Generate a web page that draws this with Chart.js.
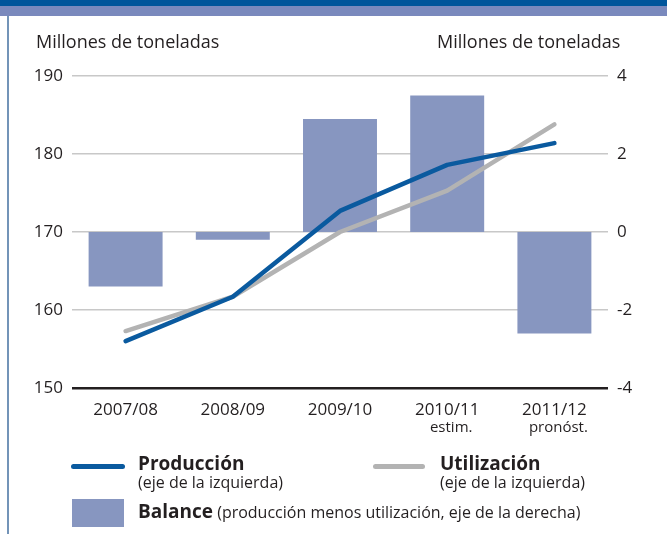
<!DOCTYPE html>
<html lang="es">
<head>
<meta charset="utf-8">
<title>Producción y utilización</title>
<script src="https://cdn.jsdelivr.net/npm/chart.js@4.4.1/dist/chart.umd.min.js"></script>
<style>
  html, body { margin: 0; padding: 0; background: #fff; }
  body { width: 667px; height: 534px; position: relative; overflow: hidden; font-family: "Open Sans", sans-serif; color: #231f20; }
  #banda1 { position: absolute; left: 0; top: 0; width: 667px; height: 6px; background: #00559b; }
  #banda2 { position: absolute; left: 0; top: 6px; width: 667px; height: 10px; background: #7a89bd; }
  #borde { position: absolute; left: 7px; top: 16px; width: 2px; height: 518px; background: #7394b8; }
  #chart { position: absolute; left: 0; top: 0; }
  .titulo { position: absolute; top: 29px; font-size: 18px; line-height: 24px; }
  .leyenda { position: absolute; line-height: 1; white-space: nowrap; }
  .leyenda b { font-size: 19px; }
  .leyenda span { font-size: 16px; }
  .linea { position: absolute; height: 5px; border-radius: 3px; }
</style>
</head>
<body>
<div id="banda1"></div>
<div id="banda2"></div>
<div id="borde"></div>
<canvas id="chart" width="667" height="534"></canvas>
<div class="titulo" style="left:36px">Millones de toneladas</div>
<div class="titulo" style="left:437px">Millones de toneladas</div>

<div class="linea" style="left:71px; top:464px; width:54px; background:#0a5a9f"></div>
<div class="leyenda" style="left:138px; top:454px"><b>Producción</b></div>
<div class="leyenda" style="left:138px; top:474px"><span>(eje de la izquierda)</span></div>
<div class="linea" style="left:373px; top:464px; width:52px; background:#b3b3b3"></div>
<div class="leyenda" style="left:440px; top:454px"><b>Utilización</b></div>
<div class="leyenda" style="left:440px; top:474px"><span>(eje de la izquierda)</span></div>
<div style="position:absolute; left:72px; top:499px; width:52px; height:28px; background:#8796c0"></div>
<div class="leyenda" style="left:138px; top:502px"><b>Balance</b> <span>(producción menos utilización, eje de la derecha)</span></div>

<script>
// Datos
const categorias = ["2007/08", "2008/09", "2009/10", "2010/11", "2011/12"];
const subEtiquetas = ["", "", "", "estim.", "pronóst."];
const produccion = [156.0, 161.7, 172.7, 178.6, 181.4];
const utilizacion = [157.3, 161.7, 170.0, 175.3, 183.8];
const balance = [-1.4, -0.2, 2.9, 3.5, -2.6];
const ticksIzq = [150, 160, 170, 180, 190];
const ticksDer = [-4, -2, 0, 2, 4];

const chartCanvas = document.querySelector("#chart");

// Dibuja "estim." y "pronóst." debajo de las etiquetas del eje x
const subEtiquetasPlugin = {
  id: "subEtiquetas",
  afterDraw(chart) {
    const ctx = chart.ctx;
    const x = chart.scales.x;
    ctx.save();
    ctx.font = "15px 'Open Sans'";
    ctx.fillStyle = "#231f20";
    ctx.textAlign = "center";
    ctx.textBaseline = "middle";
    subEtiquetas.forEach((t, i) => {
      if (t) ctx.fillText(t, x.getPixelForTick(i) + 4, 428);
    });
    ctx.restore();
  },
};

const fuente = { family: "'Open Sans'", size: 17 };

new Chart(chartCanvas.getContext("2d"), {
  data: {
    labels: categorias,
    datasets: [
      {
        type: "line",
        label: "Producción",
        data: produccion,
        yAxisID: "y",
        borderColor: "#0a5a9f",
        borderWidth: 4.5,
        pointRadius: 0,
        borderCapStyle: "round",
        borderJoinStyle: "round",
        order: 1,
      },
      {
        type: "line",
        label: "Utilización",
        data: utilizacion,
        yAxisID: "y",
        borderColor: "#b3b3b3",
        borderWidth: 4.5,
        pointRadius: 0,
        borderCapStyle: "round",
        borderJoinStyle: "round",
        order: 2,
      },
      {
        type: "bar",
        label: "Balance",
        data: balance,
        yAxisID: "y1",
        backgroundColor: "#8796c0",
        categoryPercentage: 1,
        barPercentage: 0.69,
        order: 3,
      },
    ],
  },
  options: {
    responsive: false,
    animation: false,
    layout: { padding: { top: 76, bottom: 94, left: 0, right: 0 } },
    plugins: { legend: { display: false }, tooltip: { enabled: false } },
    scales: {
      x: {
        offset: true,
        grid: { display: false },
        border: { display: false },
        ticks: { font: fuente, color: "#231f20", padding: 4 },
        afterFit: (s) => { s.height = 52; },
      },
      y: {
        position: "left",
        min: 150,
        max: 190,
        afterBuildTicks: (s) => { s.ticks = ticksIzq.map((v) => ({ value: v })); },
        grid: {
          drawTicks: false,
          color: (c) => (c.tick && c.tick.value === 150 ? "#231f20" : "#c8c8c8"),
          lineWidth: (c) => (c.tick && c.tick.value === 150 ? 2.5 : 1.5),
        },
        border: { display: false },
        ticks: { font: fuente, color: "#231f20", padding: 9 },
        afterFit: (s) => { s.width = 72; },
      },
      y1: {
        position: "right",
        min: -4,
        max: 4,
        afterBuildTicks: (s) => { s.ticks = ticksDer.map((v) => ({ value: v })); },
        grid: { display: false, drawTicks: false },
        border: { display: false },
        ticks: { font: fuente, color: "#231f20", padding: 9 },
        afterFit: (s) => { s.width = 59; },
      },
    },
  },
  plugins: [subEtiquetasPlugin],
});
</script>
</body>
</html>
